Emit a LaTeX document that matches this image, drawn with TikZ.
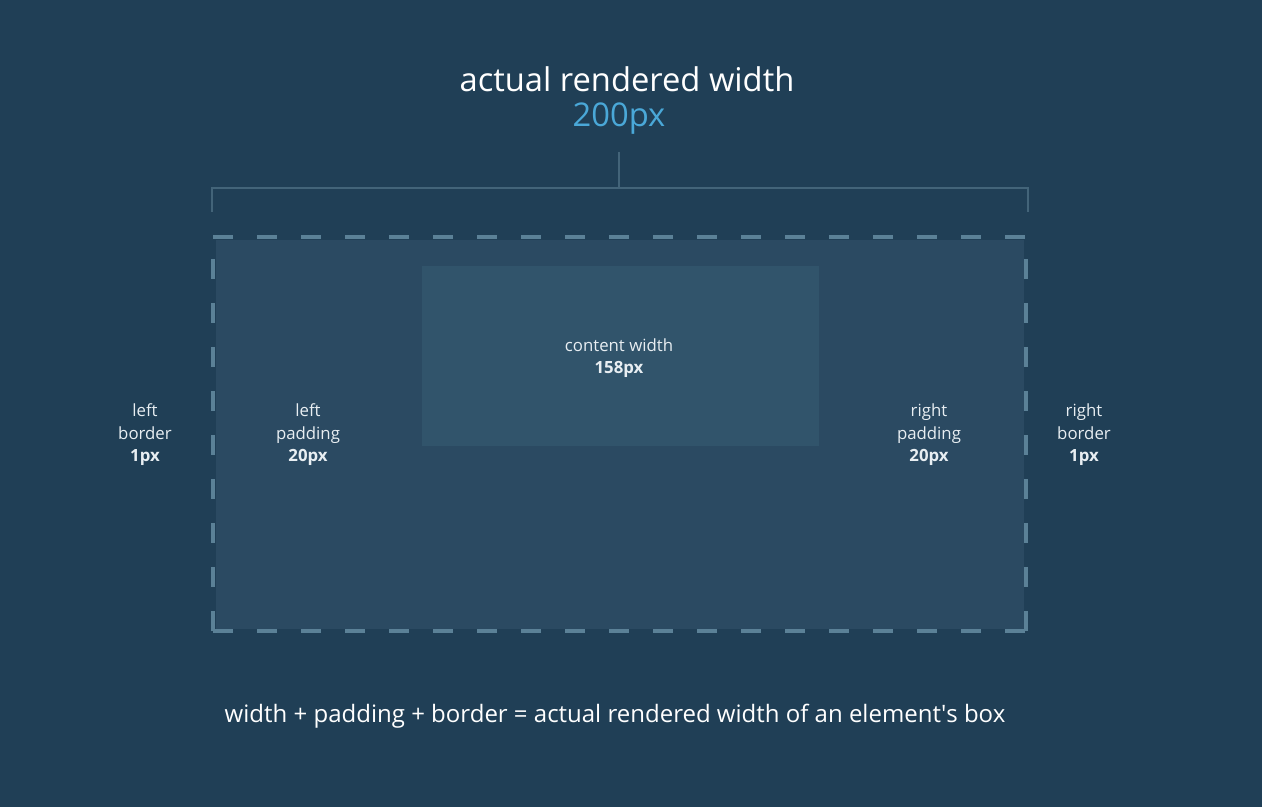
\documentclass[tikz,border=0pt]{standalone}
\usepackage{fontspec}
\setmainfont{Open Sans}
\definecolor{bg}{HTML}{203F56}
\definecolor{boxfill}{HTML}{2B4A62}
\definecolor{contentfill}{HTML}{31546B}
\definecolor{dashcol}{HTML}{5B8197}
\definecolor{bracketcol}{HTML}{436479}
\definecolor{sizeblue}{HTML}{4AA8D8}
\definecolor{labelcol}{HTML}{E8EEF2}

\begin{document}
\begin{tikzpicture}[x=1pt,y=-1pt,
  lbl/.style={text=labelcol,font=\fontsize{16.8}{22.5}\selectfont,align=center,inner sep=0pt},
  bracket/.style={draw=bracketcol,line width=1.5pt}]
\path[use as bounding box,fill=bg] (0,0) rectangle (1262,807);

\fill[boxfill] (216,240) rectangle (1024,629);
\fill[contentfill] (422,266) rectangle (819,446);
\draw[dashcol,line width=3.5pt,dash pattern=on 20pt off 24pt] (213,237) -- (1026,237);
\draw[dashcol,line width=3.5pt,dash pattern=on 20pt off 24pt,dash phase=22pt] (213,237) -- (213,631);
\draw[dashcol,line width=3.5pt,dash pattern=on 20pt off 24pt,dash phase=22pt] (1026,237) -- (1026,631);
\draw[dashcol,line width=3.5pt,dash pattern=on 20pt off 24pt] (213,631) -- (1026,631);

\node[text=white,font=\fontsize{32.7}{38}\selectfont,inner sep=0pt] at (627,79) (title) {actual rendered width};
\node[text=sizeblue,font=\fontsize{32.7}{38}\selectfont,inner sep=0pt] at (619,119) (size) {200px};

\coordinate (stem) at (619,152);
\coordinate (mid) at (619,188);
\coordinate (bl) at (212,212);
\coordinate (br) at (1028,212);
\draw[bracket] (stem) -- (mid);
\draw[bracket] (bl) |- (mid) -| (br);

\node[lbl] at (619,358) (content) {content width\\\textbf{158px}};
\node[lbl] at (145,435) (lborder) {left\\border\\\textbf{1px}};
\node[lbl] at (308,435) (lpad) {left\\padding\\\textbf{20px}};
\node[lbl] at (929,435) (rpad) {right\\padding\\\textbf{20px}};
\node[lbl] at (1084,435) (rborder) {right\\border\\\textbf{1px}};

\node[text=white,font=\fontsize{24}{28}\selectfont,inner sep=0pt] at (615,716) (formula) {width + padding + border = actual rendered width of an element\textquotesingle s box};
\end{tikzpicture}
\end{document}
